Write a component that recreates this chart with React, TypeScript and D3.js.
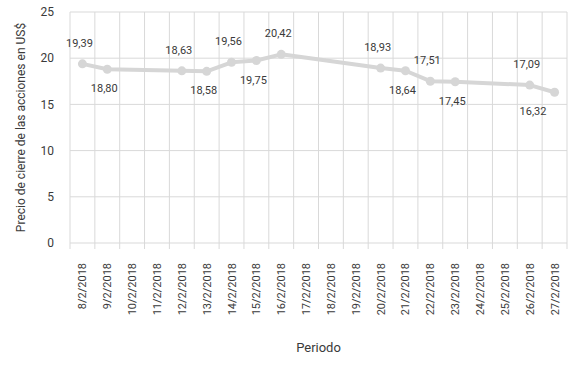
import React, { useEffect, useRef } from 'react';
import * as d3 from 'd3';

const dates = [
  '8/2/2018', '9/2/2018', '10/2/2018', '11/2/2018', '12/2/2018', '13/2/2018', '14/2/2018',
  '15/2/2018', '16/2/2018', '17/2/2018', '18/2/2018', '19/2/2018', '20/2/2018', '21/2/2018',
  '22/2/2018', '23/2/2018', '24/2/2018', '25/2/2018', '26/2/2018', '27/2/2018',
];

const priceDates = [
  '8/2/2018', '9/2/2018', '12/2/2018', '13/2/2018', '14/2/2018', '15/2/2018', '16/2/2018',
  '20/2/2018', '21/2/2018', '22/2/2018', '23/2/2018', '26/2/2018', '27/2/2018',
];
const prices = [19.39, 18.8, 18.63, 18.58, 19.56, 19.75, 20.42, 18.93, 18.64, 17.51, 17.45, 17.09, 16.32];
const labelSide = ['up', 'down', 'up', 'down', 'up', 'down', 'up', 'up', 'down', 'up', 'down', 'up', 'down'];

const yTicks = [0, 5, 10, 15, 20, 25];

const App = () => {
  const ref = useRef<SVGSVGElement>(null);

  useEffect(() => {
    const svg = d3.select(ref.current);
    svg.selectAll('*').remove();

    const left = 70, right = 567, top = 12, bottom = 243;
    const font = 'Roboto, sans-serif';
    const grid = '#d9d9d9';
    const textColor = '#3a3a3a';

    const x = d3.scaleBand().domain(dates).range([left, right]).padding(0);
    const y = d3.scaleLinear().domain([0, 25]).range([bottom, top]);

    // horizontal grid
    svg.append('g')
      .selectAll('line')
      .data(yTicks)
      .join('line')
      .attr('x1', left).attr('x2', right)
      .attr('y1', d => y(d)).attr('y2', d => y(d))
      .attr('stroke', grid).attr('stroke-width', 1);

    // vertical grid at band edges, with ticks below axis
    const edges = dates.map(d => x(d)!).concat([right]);
    svg.append('g')
      .selectAll('line')
      .data(edges)
      .join('line')
      .attr('x1', d => d).attr('x2', d => d)
      .attr('y1', top).attr('y2', bottom + 6)
      .attr('stroke', grid).attr('stroke-width', 1);

    // y tick labels
    svg.append('g')
      .selectAll('text')
      .data(yTicks)
      .join('text')
      .attr('x', 54).attr('y', d => y(d))
      .attr('dy', '0.35em')
      .attr('text-anchor', 'end')
      .attr('font-family', font).attr('font-size', 12)
      .attr('fill', textColor)
      .text(d => d);

    // x tick labels
    svg.append('g')
      .selectAll('text')
      .data(dates)
      .join('text')
      .attr('transform', d => `translate(${x(d)! + x.bandwidth() / 2 + 4},263) rotate(-90)`)
      .attr('text-anchor', 'end')
      .attr('font-family', font).attr('font-size', 11)
      .attr('fill', textColor)
      .text(d => d);

    const pts = priceDates.map((d, i) => ({ d, v: prices[i], side: labelSide[i] }));
    const cx = (d: string) => x(d)! + x.bandwidth() / 2;

    const line = d3.line<{ d: string; v: number }>()
      .x(p => cx(p.d))
      .y(p => y(p.v));

    svg.append('path')
      .datum(pts)
      .attr('fill', 'none')
      .attr('stroke', '#d6d6d6')
      .attr('stroke-width', 4)
      .attr('stroke-linejoin', 'round')
      .attr('d', line);

    svg.append('g')
      .selectAll('circle')
      .data(pts)
      .join('circle')
      .attr('cx', p => cx(p.d)).attr('cy', p => y(p.v))
      .attr('r', 4.5)
      .attr('fill', '#d6d6d6');

    // data labels, kept inside the plot on the right edge
    const fmt = (v: number) => v.toFixed(2).replace('.', ',');
    svg.append('g')
      .selectAll('text')
      .data(pts)
      .join('text')
      .attr('x', p => Math.min(cx(p.d) - 3, right - 34))
      .attr('y', p => y(p.v) + (p.side === 'up' ? -17 : 23))
      .attr('text-anchor', 'middle')
      .attr('font-family', font).attr('font-size', 11)
      .attr('fill', textColor)
      .text(p => fmt(p.v));

    // axis titles
    svg.append('text')
      .attr('transform', `translate(25,${(top + bottom) / 2}) rotate(-90)`)
      .attr('text-anchor', 'middle')
      .attr('font-family', font).attr('font-size', 12)
      .attr('fill', textColor)
      .text('Precio de cierre de las acciones en US$');

    svg.append('text')
      .attr('x', (left + right) / 2).attr('y', 352)
      .attr('text-anchor', 'middle')
      .attr('font-family', font).attr('font-size', 13)
      .attr('fill', textColor)
      .text('Periodo');
  }, []);

  return (
    <svg ref={ref} width={579} height={366}
      style={{ position: 'absolute', left: 0, top: 0, background: '#fff' }} />
  );
};

export default App;
